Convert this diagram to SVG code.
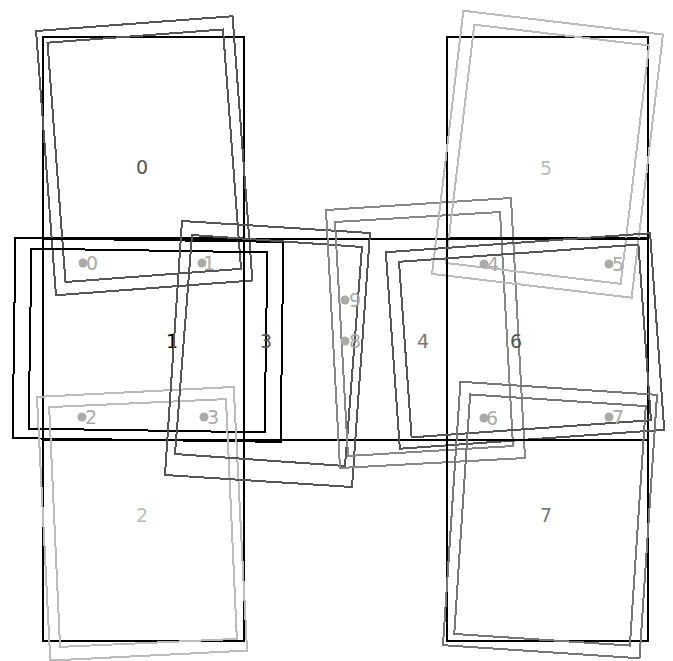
<svg xmlns="http://www.w3.org/2000/svg" width="673" height="661" viewBox="0 0 673 661">
<style>
.sq{fill:none;stroke:#000;stroke-width:2;shape-rendering:crispEdges}
.r{fill:none;stroke-width:2;shape-rendering:crispEdges}
.lbl{font-family:"DejaVu Sans",sans-serif;font-size:19px;text-anchor:middle}
.pt{font-family:"DejaVu Sans",sans-serif;font-size:19px;text-anchor:middle;fill:#aaa}
.dot{fill:#aaa}
</style>
<rect width="673" height="661" fill="#fff"/>
<g id="node-0">
<rect class="sq" x="43" y="37" width="201" height="201"/>
<g stroke="#555" class="r" transform="translate(144.25,155.75) rotate(-4.3)">
<rect class="r" x="-98.5" y="-132.5" width="197" height="265"/>
<rect class="r" x="-88" y="-120" width="176" height="240"/>
</g>
<text class="lbl" x="142" y="174" fill="#555">0</text>
</g>
<g id="node-1">
<rect class="sq" x="43" y="239" width="201" height="201"/>
<g stroke="#000" class="r">
<rect class="r" x="-134" y="-100" width="268" height="200" transform="translate(148,340) rotate(0.8)"/>
<rect class="r" x="-118" y="-90" width="236" height="180" transform="translate(148,340.5) rotate(0.9)"/>
</g>
<text class="lbl" x="172" y="348" fill="#000">1</text>
</g>
<g id="node-2">
<rect class="sq" x="43" y="440" width="201" height="201"/>
<g stroke="#bbb" class="r">
<rect class="r" x="-98.5" y="-132" width="197" height="264" transform="translate(142,523.75) rotate(-2.9)"/>
<rect class="r" x="-88.5" y="-120" width="177" height="240" transform="translate(143,523) rotate(-2.6)"/>
</g>
<text class="lbl" x="142" y="522" fill="#bbb">2</text>
</g>
<g id="node-3">
<rect class="sq" x="244" y="239" width="203" height="201"/>
<g stroke="#555" class="r">
<polygon class="r" points="182,221 370,233 352,487 165,475"/>
<polygon class="r" points="192,235 362,247 345,466 175,454"/>
</g>
<text class="lbl" x="266" y="348" fill="#555">3</text>
</g>
<g id="node-4">
<g stroke="#888" class="r">
<polygon class="r" points="326,210 511,198 525,458 340,468"/>
<polygon class="r" points="335,222 500,212 513,446 348,456"/>
</g>
<text class="lbl" x="423" y="348" fill="#777">4</text>
</g>
<g id="node-5">
<rect class="sq" x="447" y="37" width="201" height="201"/>
<g stroke="#bbb" class="r" transform="translate(547.5,154.25) rotate(6.8)">
<rect class="r" x="-100.5" y="-132.5" width="201" height="265"/>
<rect class="r" x="-88" y="-120" width="176" height="240"/>
</g>
<text class="lbl" x="546" y="175" fill="#bbb">5</text>
</g>
<g id="node-6">
<rect class="sq" x="447" y="239" width="201" height="201"/>
<g stroke="#555" class="r" transform="translate(525,341) rotate(-4.1)">
<rect class="r" x="-132.5" y="-98.5" width="265" height="197"/>
<rect class="r" x="-120" y="-88" width="240" height="176"/>
</g>
<text class="lbl" x="516" y="348" fill="#555">6</text>
</g>
<g id="node-7">
<rect class="sq" x="447" y="440" width="201" height="201"/>
<g stroke="#777" class="r" transform="translate(550,520) rotate(3.8)">
<rect class="r" x="-98.5" y="-132" width="197" height="264"/>
<rect class="r" x="-88" y="-120" width="176" height="240"/>
</g>
<text class="lbl" x="546" y="522" fill="#777">7</text>
</g>
<g id="ports">
<g id="port-0"><circle class="dot" cx="83" cy="263" r="4.5"/><text class="pt" x="92" y="270">0</text></g>
<g id="port-1"><circle class="dot" cx="202" cy="263" r="4.5"/><text class="pt" x="209" y="270">1</text></g>
<g id="port-2"><circle class="dot" cx="82" cy="417" r="4.5"/><text class="pt" x="91" y="424">2</text></g>
<g id="port-3"><circle class="dot" cx="204" cy="417" r="4.5"/><text class="pt" x="213" y="424">3</text></g>
<g id="port-4"><circle class="dot" cx="484" cy="264" r="4.5"/><text class="pt" x="493" y="271">4</text></g>
<g id="port-5"><circle class="dot" cx="609" cy="264" r="4.5"/><text class="pt" x="618" y="271">5</text></g>
<g id="port-6"><circle class="dot" cx="484" cy="418" r="4.5"/><text class="pt" x="492" y="425">6</text></g>
<g id="port-7"><circle class="dot" cx="609" cy="417" r="4.5"/><text class="pt" x="618" y="424">7</text></g>
<g id="port-9"><circle class="dot" cx="345" cy="300" r="4.5"/><text class="pt" x="355" y="307">9</text></g>
<g id="port-8"><circle class="dot" cx="345" cy="341" r="4.5"/><text class="pt" x="355" y="348">8</text></g>
</g>
<g id="connectors"></g>
</svg>
